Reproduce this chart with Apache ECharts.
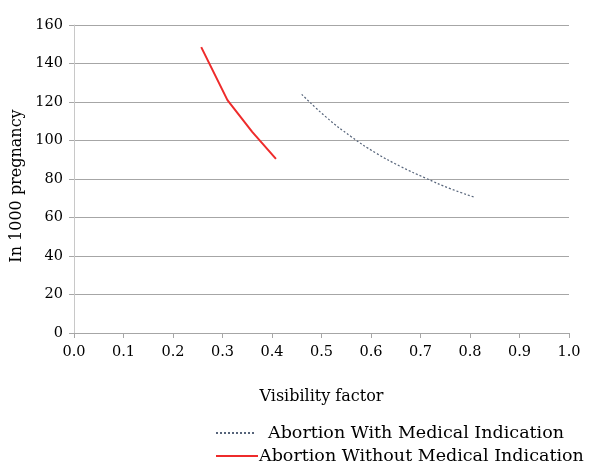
<!DOCTYPE html>
<html><head><meta charset="utf-8">
<script src="https://cdn.jsdelivr.net/npm/echarts@6/dist/echarts.min.js"></script>
<style>html,body{margin:0;padding:0;background:#fff}#c{width:592px;height:466px}</style>
</head><body><div id="c"></div>
<script>
const withX = [0.46, 0.51, 0.56, 0.61, 0.66, 0.71, 0.76, 0.81];
const withY = [124, 112, 102, 93.5, 86.5, 80.5, 75, 70.5];
const withoutX = [0.257, 0.31, 0.36, 0.408];
const withoutY = [148.5, 121, 104.5, 90.5];
const xTicks = [0, 0.1, 0.2, 0.3, 0.4, 0.5, 0.6, 0.7, 0.8, 0.9, 1.0];
const yTicks = [0, 20, 40, 60, 80, 100, 120, 140, 160];
const names = ['Abortion With Medical Indication', 'Abortion Without Medical Indication'];

const FONT = 'DejaVu Serif';
const chart = echarts.init(document.getElementById('c'));
chart.setOption({
  animation: false,
  grid: {left: 74, right: 23, top: 25, bottom: 133},
  xAxis: {
    type: 'value', min: xTicks[0], max: xTicks[xTicks.length-1], interval: 0.1,
    name: 'Visibility factor', nameLocation: 'middle', nameGap: 56,
    nameTextStyle: {fontFamily: FONT, fontSize: 16, color: '#000'},
    axisLine: {show: true, lineStyle: {color: '#a6a6a6'}},
    axisTick: {show: true, length: 5, lineStyle: {color: '#a6a6a6'}},
    axisLabel: {fontFamily: FONT, fontSize: 14.5, color: '#000', margin: 12,
      formatter: v => v.toFixed(1)},
    splitLine: {show: false}
  },
  yAxis: {
    type: 'value', min: yTicks[0], max: yTicks[yTicks.length-1], interval: 20,
    name: 'In 1000 pregnancy', nameLocation: 'middle', nameGap: 47,
    nameTextStyle: {fontFamily: FONT, fontSize: 16, color: '#000', padding: [0, 14, 0, 0]},
    axisLine: {show: true, lineStyle: {color: '#c8c8c8'}},
    axisTick: {show: true, length: 5, lineStyle: {color: '#a6a6a6'}},
    axisLabel: {fontFamily: FONT, fontSize: 14.5, color: '#000', margin: 11},
    splitLine: {show: true, lineStyle: {color: '#a6a6a6', width: 1}}
  },
  legend: [
    {data: [names[0]], orient: 'vertical', left: 210, top: 419, itemWidth: 40, itemHeight: 10,
     itemStyle: {opacity: 0},
     textStyle: {fontFamily: FONT, fontSize: 17.5, color: '#000', padding: [0,0,0,7]}},
    {data: [names[1]], orient: 'vertical', left: 210, top: 442, itemWidth: 42, itemHeight: 10,
     itemStyle: {opacity: 0},
     textStyle: {fontFamily: FONT, fontSize: 17.5, color: '#000', padding: [0,0,0,-4]}}
  ],
  series: [
    {name: names[0], type: 'line', smooth: true, symbol: 'none',
     data: withX.map((x, i) => [x, withY[i]]),
     lineStyle: {color: '#56647a', width: 1.2, type: [2, 2]},
     itemStyle: {color: '#56647a'}},
    {name: names[1], type: 'line', smooth: false, symbol: 'none',
     data: withoutX.map((x, i) => [x, withoutY[i]]),
     lineStyle: {color: '#ee2b2b', width: 2},
     itemStyle: {color: '#ee2b2b'}}
  ]
});
</script></body></html>
